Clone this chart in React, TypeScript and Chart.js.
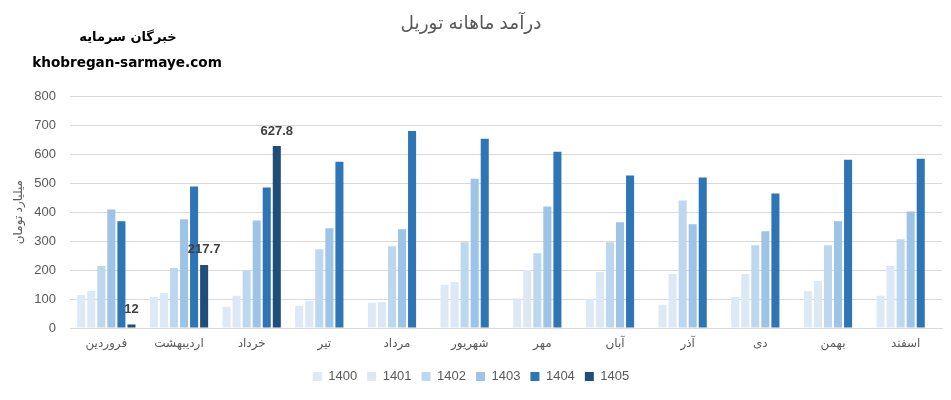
import React, { useEffect, useRef } from "react";
import { Chart, registerables } from "chart.js";

Chart.register(...registerables);

const months = [
  "فروردین", "اردیبهشت", "خرداد", "تیر", "مرداد", "شهریور",
  "مهر", "آبان", "آذر", "دی", "بهمن", "اسفند",
];
const years = ["1400", "1401", "1402", "1403", "1404", "1405"];
const v1400 = [114, 107, 73, 77, 87, 149, 103, 101, 80, 107, 128, 111];
const v1401 = [128, 121, 111, 94, 90, 159, 200, 193, 186, 186, 162, 214];
const v1402 = [214, 207, 197, 272, 282, 296, 258, 296, 440, 286, 286, 306];
const v1403 = [409, 375, 371, 344, 341, 515, 419, 365, 358, 334, 368, 402];
const v1404 = [368, 488, 485, 574, 680, 653, 608, 526, 519, 464, 581, 584];
const v1405 = [12, 217.7, 627.8, null, null, null, null, null, null, null, null, null];
const colors = ["#DDEAF6", "#DCE8F5", "#BDD7EE", "#9DC3E6", "#2E75B6", "#1F4E79"];
const yTicks = [0, 100, 200, 300, 400, 500, 600, 700, 800];

const FONT = "'Liberation Sans', 'DejaVu Sans', sans-serif";

const labelPlugin = {
  id: "lastLabels",
  afterDatasetsDraw(chart: any) {
    const ctx = chart.ctx;
    const idx = chart.data.datasets.length - 1;
    const meta = chart.getDatasetMeta(idx);
    const data = chart.data.datasets[idx].data;
    ctx.save();
    ctx.font = "bold 13px " + FONT;
    ctx.fillStyle = "#404040";
    ctx.textAlign = "center";
    ctx.textBaseline = "middle";
    meta.data.forEach((bar: any, i: number) => {
      const v = data[i];
      if (v === null || v === undefined) return;
      ctx.fillText(String(v), bar.x, bar.y - 15);
    });
    ctx.restore();
  },
};

export default function App() {
  const ref = useRef<HTMLCanvasElement>(null);
  useEffect(() => {
    document.body.style.margin = "0";
    const series = [v1400, v1401, v1402, v1403, v1404, v1405];
    const chart = new Chart(ref.current!, {
      type: "bar",
      data: {
        labels: months,
        datasets: years.map((y, i) => ({
          label: y,
          data: series[i],
          backgroundColor: colors[i],
          borderWidth: 0,
          categoryPercentage: 0.83,
          barPercentage: 0.8,
        })),
      },
      options: {
        animation: false,
        responsive: true,
        maintainAspectRatio: false,
        layout: { padding: { left: 0, right: 9, top: 0, bottom: 7 } },
        plugins: {
          tooltip: { enabled: false },
          title: {
            display: true,
            text: "درآمد ماهانه توریل",
            color: "#595959",
            font: { family: FONT, size: 18.5, weight: "normal" },
            padding: { top: 13, bottom: 61 },
          },
          legend: {
            position: "bottom",
            labels: {
              boxWidth: 9,
              boxHeight: 9,
              padding: 10,
              color: "#595959",
              font: { family: FONT, size: 13 },
            },
          },
        },
        scales: {
          x: {
            grid: { display: false, drawTicks: false },
            border: { display: true, color: "#D9D9D9" },
            ticks: {
              color: "#595959",
              font: { family: FONT, size: 12 },
              padding: 8,
              maxRotation: 0,
              autoSkip: false,
            },
            afterFit(scale: any) {
              scale.height = 32;
            },
          },
          y: {
            min: 0,
            max: 800,
            afterBuildTicks(scale: any) {
              scale.ticks = yTicks.map((v) => ({ value: v }));
            },
            grid: { color: "#D9D9D9", drawTicks: false },
            border: { display: false },
            ticks: {
              color: "#595959",
              font: { family: FONT, size: 13 },
              padding: 14,
            },
            title: {
              display: true,
              text: "میلیارد تومان",
              color: "#595959",
              font: { family: FONT, size: 12 },
              padding: { top: 11, bottom: 0 },
            },
            afterFit(scale: any) {
              scale.width = 70;
            },
          },
        },
      },
      plugins: [labelPlugin],
    });
    return () => chart.destroy();
  }, []);

  return (
    <div style={{ position: "relative", width: 951, height: 400, background: "#fff" }}>
      <canvas ref={ref} />
      <div
        style={{
          position: "absolute", left: 0, top: 27, width: 256, textAlign: "center",
          fontFamily: "'DejaVu Sans', sans-serif", fontWeight: "bold", fontSize: 13,
          color: "#000", direction: "rtl", lineHeight: "20px",
        }}
      >
        خبرگان سرمایه
      </div>
      <div
        style={{
          position: "absolute", left: 0, top: 52, width: 254, textAlign: "center",
          fontFamily: "'DejaVu Sans', sans-serif", fontWeight: "bold", fontSize: 13.6,
          color: "#000", lineHeight: "20px",
        }}
      >
        khobregan-sarmaye.com
      </div>
    </div>
  );
}
